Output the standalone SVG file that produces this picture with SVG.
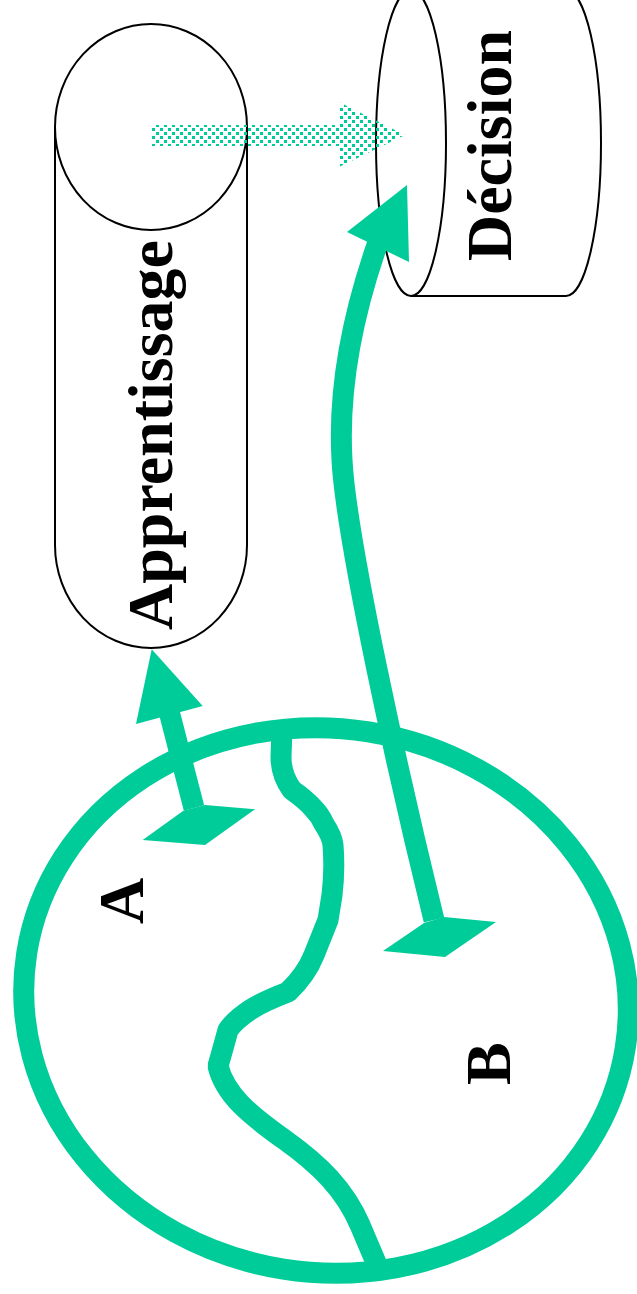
<svg xmlns="http://www.w3.org/2000/svg" width="637" height="1294" viewBox="0 0 637 1294">
  <style>
    .node { fill: #ffffff; stroke: #000000; stroke-width: 2; }
    .label { font-family: "Liberation Serif", "Times New Roman", serif; font-weight: bold; font-size: 64px; fill: #000000; }
    .thick { fill: none; stroke: #00CC99; stroke-width: 21; }
    .head { fill: #00CC99; stroke: none; }
  </style>
  <defs>
    <pattern id="dots" width="8" height="8" patternUnits="userSpaceOnUse">
      <rect x="0" y="0" width="3" height="3" fill="#00CC99"/>
      <rect x="4" y="4" width="3" height="3" fill="#00CC99"/>
    </pattern>
  </defs>
  <rect width="637" height="1294" fill="#ffffff"/>

  <g id="world">
    <ellipse class="thick" cx="326" cy="1000.5" rx="303" ry="272" transform="rotate(9 326 1000.5)"/>
    <path class="thick" stroke-linejoin="bevel" d="M282,728 L281,757 Q281,775 292,790 Q306,800 313,808 Q320,815 324,824 Q332,836 333,845 Q335,870 332,895 L328,920 Q320,940 314,955 Q306,975 288,992 Q262,1002 250,1010 Q235,1020 228,1030 Q224,1045 218,1066 C225,1095 250,1115 285,1140 C320,1165 345,1190 360,1225 L380,1272"/>
  </g>

  <g id="label-A">
    <text class="label" transform="translate(142.5 924) rotate(-90)">A</text>
  </g>
  <g id="label-B">
    <text class="label" transform="translate(510 1085) rotate(-90)">B</text>
  </g>

  <g id="apprentissage">
    <path class="node" d="M55,127 L55,545 A96,103 0 0 0 247,545 L247,127"/>
    <ellipse class="node" cx="151" cy="127" rx="96" ry="103"/>
    <text class="label" transform="translate(172 630) rotate(-90)">Apprentissage</text>
  </g>

  <g id="decision">
    <path class="node" d="M411,-10 L566,-10 A35,153 0 0 1 566,296 L411,296"/>
    <ellipse class="node" cx="411" cy="143" rx="35" ry="153"/>
    <text class="label" transform="translate(511 261) rotate(-90)">Décision</text>
  </g>

  <g id="connectors">
    <polygon fill="url(#dots)" points="151,125 339,125 339,102 405,135 339,167 339,146 151,146"/>
    <line class="thick" x1="168.2" y1="708.2" x2="194" y2="808"/>
    <polygon class="head" points="151.7,649.3 136,724 202.7,706"/>
    <polygon class="head" points="183.3,810.7 142.7,840 205,845 255,809.3 205,805"/>
    <path class="thick" d="M379.4,238 L376,248 C352,318 338,390 342,460 C346,540 400,782 434,920"/>
    <polygon class="head" points="407,185 347,232 409,262"/>
    <polygon class="head" points="424,923 383,951 445,957 496,922 444,917"/>
  </g>
</svg>
